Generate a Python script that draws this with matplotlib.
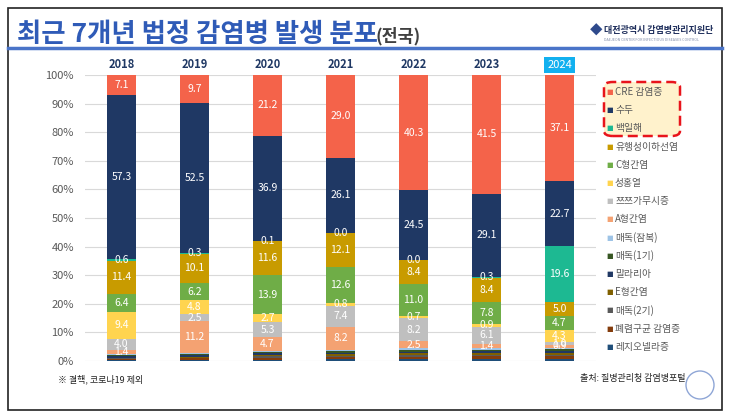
"""
Recent 7-year distribution of notifiable infectious diseases (national), 100% stacked bars.
"""
import matplotlib
matplotlib.use("Agg")
import matplotlib.pyplot as plt
from matplotlib.patches import Rectangle, FancyBboxPatch, Circle
from matplotlib.lines import Line2D
import numpy as np

plt.rcParams["font.family"] = ["Noto Sans CJK KR", "DejaVu Sans"]

YEARS = ["2018", "2019", "2020", "2021", "2022", "2023", "2024"]

# legend order (top of stack first)
DISEASES = ["CRE 감염증", "수두", "백일해", "유행성이하선염", "C형간염", "성홍열", "쯔쯔가무시증",
            "A형간염", "매독(잠복)", "매독(1기)", "말라리아", "E형간염", "매독(2기)",
            "폐렴구균 감염증", "레지오넬라증"]
COLORS = ["#F4634A", "#1F3864", "#1DB992", "#C89B00", "#6FAD47", "#FFD44F", "#BFBFBF",
          "#F4A272", "#9DC3E6", "#375623", "#203864", "#806000", "#595959",
          "#843C0C", "#1F4E79"]

# share (%) per disease per year, same order as DISEASES
CRE = [7.1, 9.7, 21.2, 29.0, 40.3, 41.5, 37.1]
VARICELLA = [57.3, 52.5, 36.9, 26.1, 24.5, 29.1, 22.7]
PERTUSSIS = [0.6, 0.3, 0.1, 0.0, 0.0, 0.3, 19.6]
MUMPS = [11.4, 10.1, 11.6, 12.1, 8.4, 8.4, 5.0]
HEP_C = [6.4, 6.2, 13.9, 12.6, 11.0, 7.8, 4.7]
SCARLET = [9.4, 4.8, 2.7, 0.8, 0.7, 0.9, 4.3]
TSUTSUGAMUSHI = [4.0, 2.5, 5.3, 7.4, 8.2, 6.1, 1.0]
HEP_A = [1.4, 11.2, 4.7, 8.2, 2.5, 1.4, 0.9]
SYPH_LATENT = [0.3, 0.3, 0.4, 0.4, 0.5, 0.5, 0.6]
SYPH_1 = [0.4, 0.4, 0.5, 0.5, 0.6, 0.6, 0.6]
MALARIA = [0.6, 0.5, 0.6, 0.5, 0.6, 0.7, 0.7]
HEP_E = [0.2, 0.3, 0.5, 0.6, 0.7, 0.6, 0.6]
SYPH_2 = [0.3, 0.3, 0.4, 0.4, 0.5, 0.5, 0.6]
PNEUMO = [0.3, 0.5, 0.7, 0.8, 0.9, 1.0, 1.0]
LEGIONELLA = [0.3, 0.4, 0.5, 0.6, 0.6, 0.6, 0.6]

SERIES = [CRE, VARICELLA, PERTUSSIS, MUMPS, HEP_C, SCARLET, TSUTSUGAMUSHI, HEP_A,
          SYPH_LATENT, SYPH_1, MALARIA, HEP_E, SYPH_2, PNEUMO, LEGIONELLA]
N_LABELED = 8  # first eight series carry value labels

W, H = 730, 418
fig = plt.figure(figsize=(W / 100, H / 100), dpi=100)


def fx(px):
    return px / W


def fy(py):
    return 1 - py / H


# slide frame
fig.patches.append(Rectangle((fx(8), fy(410)), fx(714), (402) / H, transform=fig.transFigure,
                             fill=False, edgecolor="#222222", lw=1.2))
# title
fig.text(fx(17), fy(34), "최근 7개년 법정 감염병 발생 분포", fontsize=19, fontweight="bold",
         color="#2F5BB7", va="center", ha="left")
fig.text(fx(375), fy(36), "(전국)", fontsize=12.5, fontweight="bold", color="#404040", va="center")
fig.add_artist(Line2D([fx(8), fx(722)], [fy(48), fy(48)], color="#4A74C8", lw=2.5))
# logo
fig.text(fx(596), fy(31), "◆", fontsize=9, color="#2E4A8C", va="center", ha="center")
fig.text(fx(604), fy(31), "대전광역시 감염병관리지원단", fontsize=6.5, fontweight="bold",
         color="#1F2F5C", va="center")
fig.text(fx(604), fy(40), "DAEJEON CENTER FOR INFECTIOUS DISEASES CONTROL", fontsize=2.6,
         color="#7F8BA8", va="center")

ax = fig.add_axes([fx(85), fy(361), fx(596) - fx(85), (361 - 75) / H])
x = np.arange(len(YEARS))
bottom = np.zeros(len(YEARS))
stack = list(zip(DISEASES, COLORS, SERIES))[::-1]  # draw from bottom
for name, col, vals in stack:
    vals = np.array(vals)
    ax.bar(x, vals, width=0.4, bottom=bottom, color=col, zorder=3, linewidth=0)
    idx = DISEASES.index(name)
    if idx < N_LABELED:
        for xi, (b, v) in enumerate(zip(bottom, vals)):
            ax.text(xi, b + v / 2, f"{v:.1f}", ha="center", va="center", color="white",
                    fontsize=7.5, zorder=4)
    bottom += vals

ax.set_xlim(-0.5, 6.5)
ax.set_ylim(0, 100)
ax.set_yticks(range(0, 101, 10))
ax.set_yticklabels([f"{v}%" for v in range(0, 101, 10)], fontsize=8, color="#595959")
ax.set_xticks([])
ax.tick_params(axis="y", length=0, pad=8)
ax.grid(axis="y", color="#D9D9D9", lw=0.8, zorder=0)
for s in ax.spines.values():
    s.set_visible(False)

for xi, yr in enumerate(YEARS):
    if yr == "2024":
        ax.text(xi, 103.5, yr, ha="center", va="center", fontsize=8, color="white",
                bbox=dict(boxstyle="square,pad=0.25", facecolor="#12B0EF", edgecolor="none"),
                clip_on=False)
    else:
        ax.text(xi, 103.5, yr, ha="center", va="center", fontsize=8, color="#1F3864",
                fontweight="bold", clip_on=False)

# legend highlight box (first three)
fig.patches.append(FancyBboxPatch((fx(604), fy(136)), fx(76), (136 - 82) / H,
                                  boxstyle="round,pad=0,rounding_size=0.012",
                                  transform=fig.transFigure, facecolor="#FFF2CC",
                                  edgecolor="#E8141B", lw=1.8, linestyle=(0, (4, 2))))
for i, (name, col) in enumerate(zip(DISEASES, COLORS)):
    yy = fy(92 + 18.2 * i)
    fig.text(fx(610), yy, "■", fontsize=5, color=col, va="center", ha="center",
             family="DejaVu Sans")
    fig.text(fx(615), yy, name, fontsize=7, color="#595959", va="center")

# footer
fig.text(fx(58), fy(379), "※ 결핵, 코로나19 제외", fontsize=6.5, color="#222222", va="center")
fig.text(fx(686), fy(379), "출처: 질병관리청 감염병포털", fontsize=6.5, color="#222222",
         va="center", ha="right")
fig.patches.append(Circle((7.0, (H - 385) / 100), 0.14, transform=fig.dpi_scale_trans,
                          fill=False, edgecolor="#8FA6D6", lw=1.0))

fig.savefig("out.png", dpi=100)
